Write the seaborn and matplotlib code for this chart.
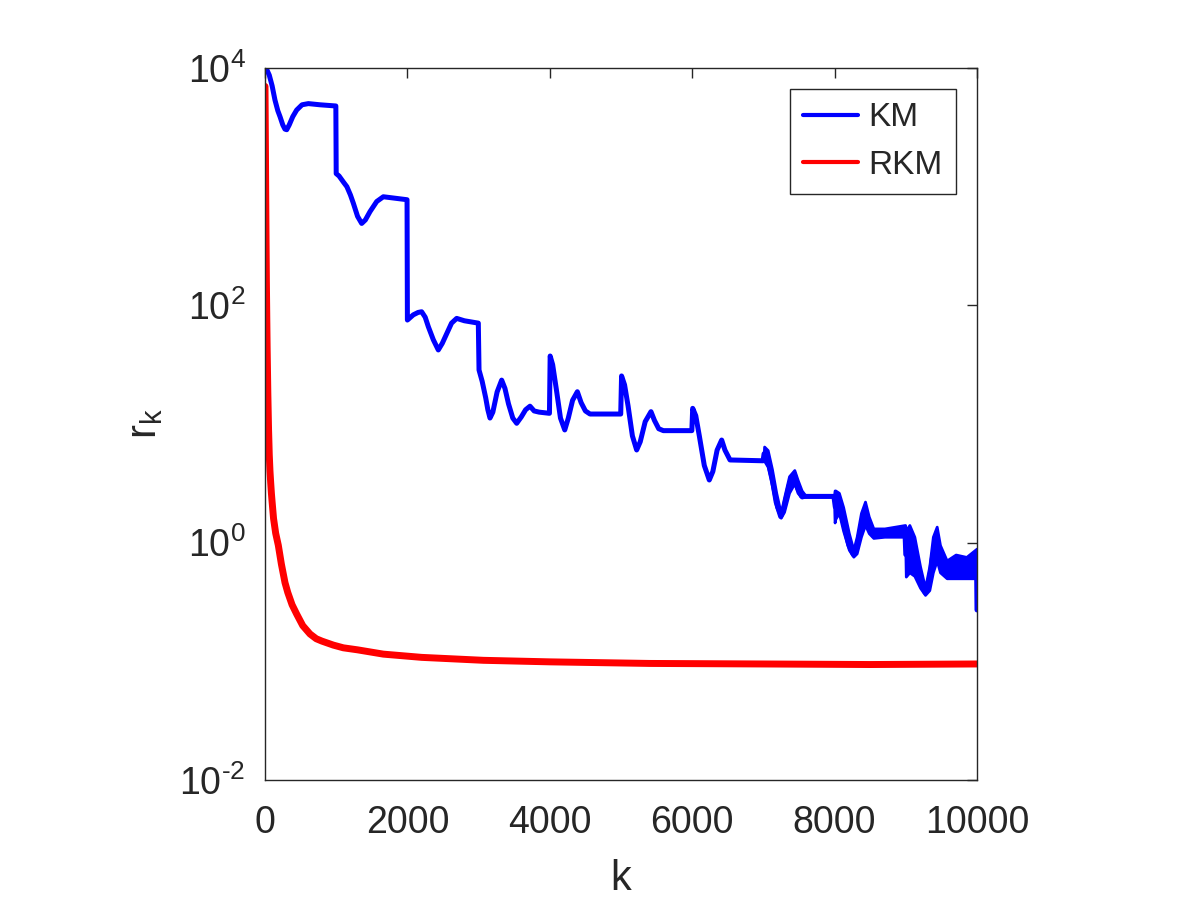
import numpy as np
import pandas as pd
import matplotlib
matplotlib.use("Agg")
import matplotlib.pyplot as plt
import seaborn as sns

# ---------------- data (log10 of r_k) ----------------
km_k = [0, 30, 60, 100, 140, 180, 211, 250, 280, 305, 340, 390, 445, 520, 609, 772, 995,
        1000, 1040, 1100, 1150, 1200, 1241, 1300, 1358, 1410, 1475, 1569, 1662, 1800, 1995,
        2000, 2083, 2150, 2200, 2250, 2294, 2364, 2434, 2490, 2551, 2620, 2692, 2800, 2996,
        3006, 3050, 3100, 3130, 3160, 3200, 3260, 3324, 3370, 3420, 3480, 3535, 3600, 3660,
        3722, 3780, 3850, 3995,
        4005, 4040, 4090, 4150, 4210, 4260, 4320, 4387, 4440, 4500, 4565, 4996,
        5008, 5050, 5100, 5160, 5220, 5270, 5340, 5421, 5470, 5530, 5595, 5995,
        6007, 6050, 6100, 6170, 6240, 6290, 6350, 6414, 6460, 6531, 6995,
        7010, 7060, 7120, 7180, 7243, 7290, 7360, 7434, 7480, 7537, 7990,
        8010, 8060, 8120, 8200, 8263, 8310, 8370, 8427, 8480, 8544, 8990,
        9000, 9050, 9120, 9200, 9270, 9330, 9380, 9434, 9480, 9574, 9995, 10000]
km_log_r = [3.99, 3.98, 3.94, 3.85, 3.73, 3.64, 3.59, 3.52, 3.485, 3.48, 3.52, 3.59, 3.646,
            3.69, 3.70, 3.69, 3.68,
            3.11, 3.09, 3.04, 3.00, 2.93, 2.86, 2.75, 2.69, 2.72, 2.79, 2.875, 2.915, 2.905, 2.89,
            1.876, 1.92, 1.94, 1.946, 1.90, 1.82, 1.71, 1.624, 1.68, 1.76, 1.85, 1.89, 1.87, 1.85,
            1.455, 1.36, 1.22, 1.12, 1.05, 1.10, 1.27, 1.37, 1.30, 1.17, 1.05, 1.006, 1.06, 1.12,
            1.15, 1.11, 1.10, 1.09,
            1.573, 1.50, 1.30, 1.05, 0.95, 1.05, 1.20, 1.272, 1.18, 1.11, 1.084, 1.084,
            1.405, 1.33, 1.15, 0.90, 0.781, 0.85, 1.02, 1.104, 1.03, 0.96, 0.944, 0.944,
            1.132, 1.07, 0.90, 0.65, 0.528, 0.60, 0.78, 0.865, 0.78, 0.697, 0.69,
            0.75, 0.70, 0.55, 0.34, 0.22, 0.30, 0.48, 0.58, 0.46, 0.39, 0.39,
            0.30, 0.32, 0.18, -0.02, -0.10, -0.05, 0.13, 0.26, 0.13, 0.06, 0.06,
            -0.10, -0.08, -0.14, -0.30, -0.42, -0.32, -0.10, 0.0, -0.14, -0.26, -0.26, -0.567]

# noisy envelope of KM (log10 r_k) in the late iterations
band_k = [7000, 7010, 7060, 7120, 7180, 7243, 7290, 7360, 7434, 7480, 7537, 7600,
          7990, 8000, 8010, 8060, 8120, 8200, 8263, 8310, 8370, 8427, 8480, 8544, 8700, 8990,
          9000, 9050, 9120, 9200, 9270, 9330, 9380, 9434, 9480, 9574, 9700, 9850, 9995]
band_lo = [0.69, 0.69, 0.64, 0.48, 0.30, 0.21, 0.26, 0.42, 0.50, 0.42, 0.38, 0.39,
           0.39, 0.17, 0.20, 0.25, 0.10, -0.06, -0.118, -0.09, 0.05, 0.15, 0.08, 0.04, 0.05, 0.05,
           -0.286, -0.25, -0.28, -0.38, -0.44, -0.40, -0.25, -0.15, -0.25, -0.30, -0.30, -0.30, -0.30]
band_hi = [0.69, 0.81, 0.78, 0.62, 0.42, 0.25, 0.38, 0.56, 0.612, 0.53, 0.44, 0.39,
           0.39, 0.44, 0.44, 0.42, 0.30, 0.08, -0.06, 0.05, 0.25, 0.346, 0.22, 0.12, 0.12, 0.149,
           0.10, 0.149, 0.05, -0.20, -0.38, -0.20, 0.05, 0.135, -0.02, -0.15, -0.10, -0.12, -0.05]

rkm_k = [0, 3, 6, 10, 15, 20, 25, 30, 40, 50, 60, 70, 80, 90, 100, 120, 150, 187, 230, 281,
         320, 380, 445, 530, 632, 720, 800, 960, 1100, 1300, 1662, 2200, 3067, 4000, 5400,
         7000, 8500, 10000]
rkm_r = [7000, 4000, 2200, 900, 350, 150, 80, 45, 18, 9, 5.5, 4.0, 3.2, 2.6, 2.2, 1.6, 1.2,
         0.95, 0.66, 0.46, 0.38, 0.30, 0.25, 0.20, 0.17, 0.155, 0.148, 0.137, 0.130, 0.125,
         0.115, 0.108, 0.102, 0.099, 0.096, 0.095, 0.094, 0.095]

x_ticks = [0, 2000, 4000, 6000, 8000, 10000]
y_ticks = [1e-2, 1e0, 1e2, 1e4]
y_tick_labels = ["$\\mathregular{10^{\u20102}}$", r"$\mathregular{10^{0}}$",
                 r"$\mathregular{10^{2}}$", r"$\mathregular{10^{4}}$"]
series_names = ["KM", "RKM"]
series_colors = ["#0000FF", "#FF0000"]

# ---------------- plotting ----------------
sns.set_theme(style="white")
plt.rcParams["font.family"] = ["Liberation Sans", "DejaVu Sans"]
plt.rcParams["mathtext.fontset"] = "custom"
plt.rcParams["mathtext.rm"] = "Liberation Sans"
plt.rcParams["mathtext.it"] = "Liberation Sans"

df = pd.concat([
    pd.DataFrame({"k": km_k, "r": 10 ** np.array(km_log_r), "method": series_names[0]}),
    pd.DataFrame({"k": rkm_k, "r": rkm_r, "method": series_names[1]}),
], ignore_index=True)

fig = plt.figure(figsize=(12, 9), dpi=100)
ax = fig.add_axes([265 / 1200, 1 - 780 / 900, (977 - 265) / 1200, (780 - 68) / 900])

sns.lineplot(data=df, x="k", y="r", hue="method", palette=series_colors,
             estimator=None, sort=False, linewidth=3.6, ax=ax)
ax.lines[1].set_linewidth(5.0)
ax.fill_between(band_k, 10 ** np.array(band_lo), 10 ** np.array(band_hi),
                facecolor=series_colors[0], edgecolor=series_colors[0], linewidth=2.0)

ax.set_yscale("log")
ax.set_xlim(0, 10000)
ax.set_ylim(1e-2, 1e4)
ax.set_xticks(x_ticks)
ax.set_xticklabels([str(t) for t in x_ticks])
ax.set_yticks(y_ticks)
ax.set_yticklabels(y_tick_labels)
ax.yaxis.set_minor_locator(matplotlib.ticker.NullLocator())

axis_color = "#262626"
for s in ax.spines.values():
    s.set_color(axis_color)
    s.set_linewidth(1.0)
ax.tick_params(axis="both", which="major", direction="in", length=7, width=1.0,
               color=axis_color, labelcolor=axis_color, labelsize=27,
               top=True, right=True)
ax.tick_params(axis="x", pad=18)
ax.tick_params(axis="y", pad=14)

ax.set_xlabel("k", fontsize=30, color=axis_color, labelpad=13)
ax.set_ylabel(r"$\mathregular{r_k}$", fontsize=30, color=axis_color, labelpad=10)

leg = ax.legend(loc="upper right", bbox_to_anchor=(0.9705, 0.9705), borderaxespad=0,
                fontsize=24, frameon=True, fancybox=False, framealpha=1,
                handlelength=1.65, handletextpad=0.3, borderpad=0.4, labelspacing=0.5)
leg.get_frame().set_edgecolor(axis_color)
leg.get_frame().set_linewidth(1.0)
for line in leg.get_lines():
    line.set_linewidth(3.0)

fig.savefig("out.png", dpi=100)
